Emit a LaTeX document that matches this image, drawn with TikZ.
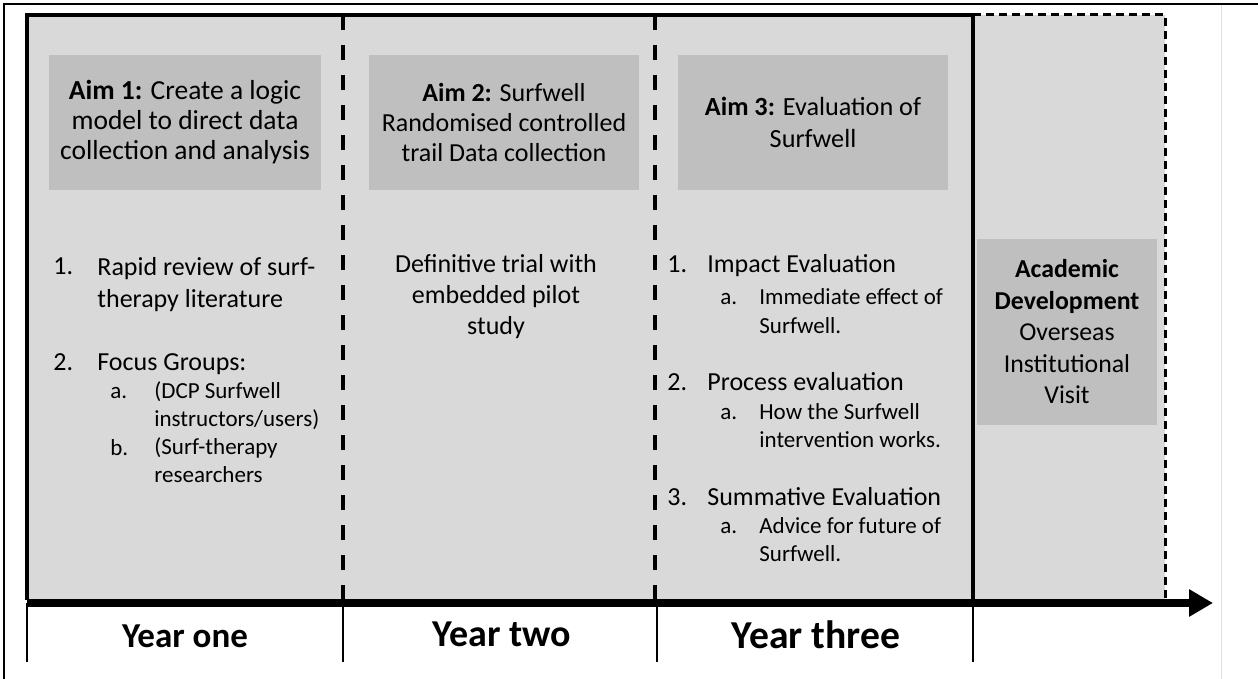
\documentclass[tikz,border=0pt]{standalone}
\usepackage{fontspec}
\setmainfont{Carlito}
\usetikzlibrary{arrows.meta}
\definecolor{panelgray}{HTML}{D9D9D9}
\definecolor{aimgray}{HTML}{BFBFBF}

\tikzset{
  aimbox/.style={fill=aimgray, align=center, inner sep=0pt},
  itemtext/.style={align=left, inner sep=0pt, anchor=base west,
    font=\fontsize{13}{16}\selectfont},
  subtext/.style={align=left, inner sep=0pt, anchor=base west,
    font=\fontsize{11.5}{14}\selectfont},
  yearlabel/.style={inner sep=0pt, anchor=base},
  yeardash/.style={line width=2pt, dash pattern=on 7.5pt off 7.5pt},
}

\begin{document}
\begin{tikzpicture}[x=0.5pt, y=-0.5pt]
    \useasboundingbox (0,0) rectangle (1258,679);
    %frame
    \draw [line width=1pt] (4,679) -- (4,4) -- (1258,4);
    \draw [black!12, line width=0.5pt] (1221,5) -- (1221,679);
    %panels
    \fill [panelgray] (27,15) rectangle (1165,600);
    \draw [line width=1.5pt, dash pattern=on 4pt off 2.5pt] (973,15) -- (1165,15) -- (1165,600);
    \draw [line width=2pt] (27,600) -- (27,15) -- (973,15) -- (973,600);
    \draw [yeardash] (343,15) -- (343,600);
    \draw [yeardash] (655,15) -- (655,600);

    %aims
    \node[aimbox, minimum width=136pt, minimum height=67.5pt,
          font=\fontsize{13.75}{15}\selectfont] (aimone) at (185,122.5) %
         {\textbf{Aim 1:} Create a logic\\model to direct data\\collection and analysis};
    \node[aimbox, minimum width=135pt, minimum height=67.5pt,
          font=\fontsize{13}{15}\selectfont] (aimtwo) at (504,122.5) %
         {\textbf{Aim 2:} Surfwell\\Randomised controlled\\trail Data collection};
    \node[aimbox, minimum width=135pt, minimum height=67.5pt,
          font=\fontsize{13.1}{16}\selectfont] (aimthree) at (813,122.5) %
         {\textbf{Aim 3:} Evaluation of\\Surfwell};
    \node[aimbox, minimum width=90pt, minimum height=93pt,
          font=\fontsize{12.9}{15.75}\selectfont] (acad) at (1067,332) %
         {\textbf{Academic}\\\textbf{Development}\\Overseas\\Institutional\\Visit};

    %year one
    \node[itemtext] (reviewnum) at (53,275) {1.};
    \node[itemtext] (review) at (97,307) {Rapid review of surf-\\therapy literature};
    \node[itemtext] (focusnum) at (53,370) {2.};
    \node[itemtext] (focus) at (97,370) {Focus Groups:};
    \node[subtext] (dcpnum) at (110,398) {a.};
    \node[subtext] (dcp) at (154,426) {(DCP Surfwell\\instructors/users)};
    \node[subtext] (researchnum) at (110,455) {b.};
    \node[subtext] (research) at (154,482) {(Surf-therapy\\researchers};

    %year two
    \node[align=center, inner sep=0pt, anchor=base,
          font=\fontsize{13}{15.5}\selectfont] (trial) at (496,335) %
         {Definitive trial with\\embedded pilot\\study};

    %year three
    \node[itemtext] (impactnum) at (667,273) {1.};
    \node[itemtext] (impact) at (707,273) {Impact Evaluation};
    \node[subtext] (effectnum) at (720,305) {a.};
    \node[subtext] (effect) at (759,333) {Immediate effect of\\Surfwell.};
    \node[itemtext] (processnum) at (667,390) {2.};
    \node[itemtext] (process) at (707,390) {Process evaluation};
    \node[subtext] (hownum) at (720,419) {a.};
    \node[subtext] (how) at (759,447) {How the Surfwell\\intervention works.};
    \node[itemtext] (summativenum) at (667,505) {3.};
    \node[itemtext] (summative) at (707,505) {Summative Evaluation};
    \node[subtext] (advicenum) at (720,533) {a.};
    \node[subtext] (advice) at (759,561) {Advice for future of\\Surfwell.};

    %timeline
    \coordinate (start) at (27,603);
    \coordinate (end) at (1213,603);
    \draw [line width=4pt, -{Triangle[length=12pt, width=13pt]}] (start) -- (end);
    \foreach \x in {27, 343, 657, 973}
        \draw [line width=1pt] (\x,603) -- (\x,662);
    \node[yearlabel, font=\fontsize{17.5}{20}\selectfont\bfseries] (yearone) at (185,647) {Year one};
    \node[yearlabel, font=\fontsize{19}{22}\selectfont\bfseries] (yeartwo) at (502,646) {Year two};
    \node[yearlabel, font=\fontsize{19.8}{22}\selectfont\bfseries] (yearthree) at (816,648) {Year three};
\end{tikzpicture}
\end{document}
